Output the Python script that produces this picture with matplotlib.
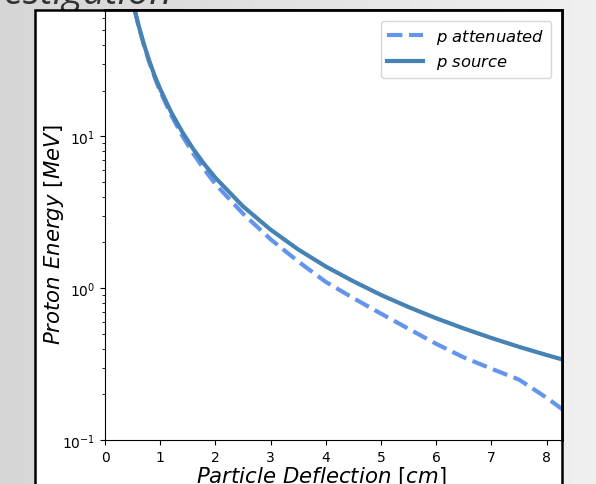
import numpy as np
import matplotlib
matplotlib.use("Agg")
import matplotlib.pyplot as plt
from matplotlib.patches import Rectangle

# deflection [cm]
deflection = [0.54, 0.6, 0.7, 0.8, 0.9, 1.0, 1.2, 1.4, 1.6, 1.8, 2.0, 2.5, 3.0,
              3.5, 4.0, 4.5, 5.0, 5.5, 6.0, 6.5, 7.0, 7.5, 8.0, 8.3]
# proton energy [MeV]
e_source = [67.7, 55.2, 41.0, 31.6, 25.1, 20.5, 14.4, 10.7, 8.24, 6.56, 5.34, 3.46, 2.43,
            1.80, 1.39, 1.11, 0.903, 0.751, 0.634, 0.543, 0.470, 0.411, 0.363, 0.338]
e_atten = [67.7, 55.0, 40.5, 31.0, 24.5, 19.8, 13.8, 10.1, 7.7, 6.05, 4.85, 3.1, 2.1,
           1.5, 1.1, 0.86, 0.68, 0.54, 0.43, 0.35, 0.295, 0.25, 0.19, 0.158]
xticks = [0, 1, 2, 3, 4, 5, 6, 7, 8]

W, H = 596, 485
fig = plt.figure(figsize=(W / 100, H / 100), dpi=100)

# slide background
bg = fig.add_axes([0, 0, 1, 1])
grad = np.linspace(0, 1, 256).reshape(1, -1)
bg.imshow(grad, aspect='auto', cmap=matplotlib.colors.LinearSegmentedColormap.from_list(
    'g', ['#d6d6d6', '#f0f0f0']), extent=[0, 1, 0, 1])
bg.set_xlim(0, 1)
bg.set_ylim(0, 1)
bg.axis('off')
bg.text(172 / W, 1 - 4 / H, 'Investigation', ha='right', va='baseline',
        fontsize=28, style='italic', color='#333333', family='Open Sans')

# embedded figure box
bg.add_patch(Rectangle((35 / W, -0.1), (562 - 35) / W, 1.1 - 11 / H,
                       facecolor='white', edgecolor='black', lw=1.8, zorder=3))

ax = fig.add_axes([105 / W, 1 - 441 / H, (562 - 105) / W, (441 - 11) / H])
ax.plot(deflection, e_atten, '--', color='#6495ED', lw=3, label=r'$p\ attenuated$')
ax.plot(deflection, e_source, '-', color='#4682B4', lw=3, label=r'$p\ source$')
ax.set_yscale('log')
ax.set_xlim(0, 8.28)
ax.set_ylim(0.1, 68)
ax.set_xticks(xticks)
ax.tick_params(labelsize=10)
ax.set_xlabel(r'$Particle\ Deflection\ [cm]$', fontsize=15.3)
ax.set_ylabel(r'$Proton\ Energy\ [MeV]$', fontsize=15.3)
ax.xaxis.set_label_coords(0.473, -0.056)
ax.yaxis.set_label_coords(-0.085, 0.479)
for s in ['top', 'right']:
    ax.spines[s].set_linewidth(2)
ax.legend(loc='upper right', fontsize=11.8, handlelength=2.2, borderaxespad=0.65)

fig.savefig('out.png', dpi=100)
